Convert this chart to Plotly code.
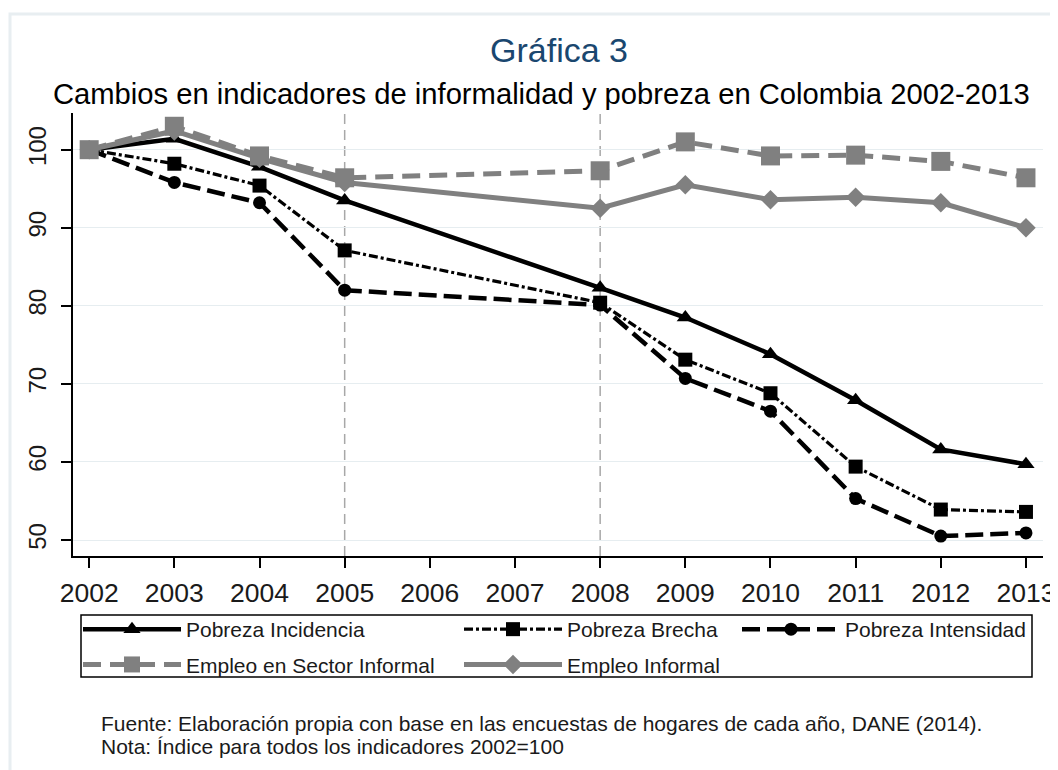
import plotly.graph_objects as go

# ---------------- data ----------------
years = [2002, 2003, 2004, 2005, 2008, 2009, 2010, 2011, 2012, 2013]
tick_years = [2002, 2003, 2004, 2005, 2006, 2007, 2008, 2009, 2010, 2011, 2012, 2013]
y_ticks = [50, 60, 70, 80, 90, 100]
ref_years = [2005, 2008]

pobreza_incidencia = [100, 101.4, 97.8, 93.5, 82.3, 78.5, 73.8, 67.9, 61.6, 59.7]
pobreza_brecha = [100, 98.2, 95.4, 87.1, 80.4, 73.1, 68.8, 59.4, 53.9, 53.6]
pobreza_intensidad = [100, 95.8, 93.2, 82.0, 80.1, 70.7, 66.5, 55.3, 50.5, 50.9]
empleo_sector_informal = [100, 103.0, 99.2, 96.4, 97.3, 101.0, 99.2, 99.3, 98.5, 96.4]
empleo_informal = [100, 102.4, 98.9, 95.8, 92.5, 95.5, 93.6, 93.9, 93.2, 90.0]

title_text = "Gráfica 3"
subtitle_text = "Cambios en indicadores de informalidad y pobreza en Colombia 2002-2013"
note1 = "Fuente: Elaboración propia con base en las encuestas de hogares de cada año, DANE (2014)."
note2 = "Nota: Índice para todos los indicadores 2002=100"

FONT = "Liberation Sans, Arial, sans-serif"
BLACK = "#000000"
GRAY = "#808080"
TXT = "#1a1a1a"

fig = go.Figure()

series = [
    dict(name="Pobreza Incidencia", y=pobreza_incidencia, color=BLACK, width=4.5, dash="solid",
         symbol="triangle-up", size=15, legend="legend"),
    dict(name="Pobreza Brecha", y=pobreza_brecha, color=BLACK, width=3.2, dash="9px,3px,3px,3px",
         symbol="square", size=14, legend="legend2"),
    dict(name="Pobreza Intensidad", y=pobreza_intensidad, color=BLACK, width=4.5, dash="18px,7px",
         symbol="circle", size=13, legend="legend3"),
    dict(name="Empleo en Sector Informal", y=empleo_sector_informal, color=GRAY, width=5, dash="18px,9px",
         symbol="square", size=19, legend="legend"),
    dict(name="Empleo Informal", y=empleo_informal, color=GRAY, width=5, dash="solid",
         symbol="diamond", size=15, legend="legend2"),
]

for s in series:
    fig.add_trace(go.Scatter(
        x=years, y=s["y"], name=s["name"], mode="lines+markers",
        line=dict(color=s["color"], width=s["width"], dash=s["dash"]),
        marker=dict(symbol=s["symbol"], size=s["size"], color=s["color"]),
        legend=s["legend"], legendgroup=s["name"],
    ))

for yr in ref_years:
    fig.add_vline(x=yr, line=dict(color="#a8a8a8", width=1.5, dash="10px,6px"), layer="below")

# geometry: the page body adds an 8px offset; positions below are given in screen pixels
OFF = 8
W, H = 1050, 762
L = 73 - OFF
T = 113 - OFF
R = W - (1043 - OFF)
B = H - (556 - OFF)
pw, ph = W - L - R, H - T - B


def px_x(p):
    return (p - OFF - L) / pw


def px_y(p):
    return (H - B - (p - OFF)) / ph


legend_common = dict(
    orientation="v", bgcolor="rgba(0,0,0,0)", borderwidth=0,
    font=dict(family=FONT, size=21, color=TXT),
    itemwidth=98, tracegroupgap=5, yanchor="top", xanchor="left",
    itemclick=False, itemdoubleclick=False,
)

fig.update_layout(
    width=W, height=H,
    margin=dict(l=L, r=R, t=T, b=B, autoexpand=False),
    paper_bgcolor="white", plot_bgcolor="white",
    font=dict(family=FONT, color=TXT),
    showlegend=True,
    legend=dict(x=px_x(78), y=px_y(609), **legend_common),
    legend2=dict(x=px_x(459), y=px_y(609), **legend_common),
    legend3=dict(x=px_x(737), y=px_y(609), **legend_common),
    title=dict(text=title_text, x=(559 - OFF) / W, xref="container", xanchor="center",
               y=1 - (50 - OFF) / H, yref="container", yanchor="middle",
               font=dict(family=FONT, size=34, color="#1a476f")),
    xaxis=dict(
        range=[2001.81, 2013.2], tickvals=tick_years, ticktext=[str(t) for t in tick_years],
        showgrid=False, zeroline=False, showline=True, linecolor="black", linewidth=1.5,
        ticks="outside", ticklen=10, tickwidth=1.5, tickcolor="black",
        tickfont=dict(family=FONT, size=26.5, color=TXT), ticklabelstandoff=2,
    ),
    yaxis=dict(
        range=[47.95, 104.7], tickvals=y_ticks, ticktext=[str(t) for t in y_ticks],
        showgrid=True, gridcolor="#e6edf0", gridwidth=1, zeroline=False,
        showline=True, linecolor="black", linewidth=1.5,
        ticks="outside", ticklen=10, tickwidth=1.5, tickcolor="black",
        tickangle=-90, tickfont=dict(family=FONT, size=24, color=TXT), ticklabelstandoff=6,
    ),
)

# subtitle and notes
fig.add_annotation(text=subtitle_text, xref="paper", yref="paper", x=px_x(541), y=px_y(94),
                   xanchor="center", yanchor="middle", showarrow=False,
                   font=dict(family=FONT, size=29.2, color=BLACK))
fig.add_annotation(text=note1, xref="paper", yref="paper", x=px_x(99), y=px_y(723),
                   xanchor="left", yanchor="middle", showarrow=False,
                   font=dict(family=FONT, size=21, color=TXT))
fig.add_annotation(text=note2, xref="paper", yref="paper", x=px_x(99), y=px_y(746),
                   xanchor="left", yanchor="middle", showarrow=False,
                   font=dict(family=FONT, size=21, color=TXT))

# legend frame
fig.add_shape(type="rect", xref="paper", yref="paper",
              x0=px_x(81), x1=px_x(1032), y0=px_y(677), y1=px_y(615),
              line=dict(color="black", width=1.5), fillcolor="rgba(0,0,0,0)", layer="above")
# outer light frame
fig.add_shape(type="rect", xref="paper", yref="paper",
              x0=px_x(10), x1=px_x(1080), y0=px_y(800), y1=px_y(14),
              line=dict(color="#e8eef1", width=3), fillcolor="rgba(0,0,0,0)", layer="below")

fig.write_html("out.html")
